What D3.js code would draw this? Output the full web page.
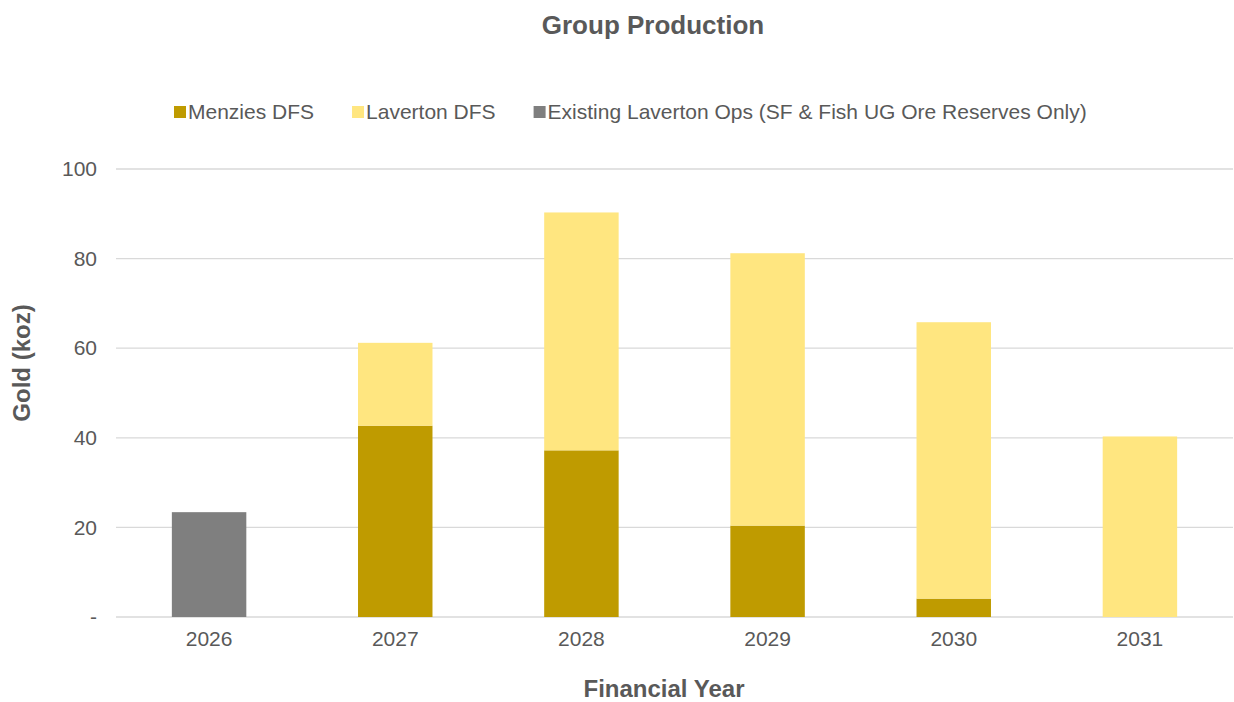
<!DOCTYPE html>
<html><head><meta charset="utf-8">
<script src="https://cdn.jsdelivr.net/npm/d3@7"></script>
<style>body{margin:0;background:#fff;} text{font-family:"Liberation Sans",Arial,sans-serif;}</style>
</head><body>
<svg id="c" width="1234" height="702"></svg>
<script>
const years = ["2026","2027","2028","2029","2030","2031"];
const menzies = [0, 42.7, 37.2, 20.4, 4.1, 0];
const laverton = [0, 18.5, 53.1, 60.8, 61.7, 40.3];
const existing = [23.4, 0, 0, 0, 0, 0];
const yTicks = [0, 20, 40, 60, 80, 100];
const seriesNames = ["Menzies DFS", "Laverton DFS", "Existing Laverton Ops (SF & Fish UG Ore Reserves Only)"];
const seriesColors = ["#BF9B00", "#FFE680", "#7F7F7F"];

const svg = d3.select("#c");
const W = 1234, H = 702;
const m = {left:116, right:1, top:169, bottom:85};
const x = d3.scaleBand().domain(years).range([m.left, W - m.right]).paddingInner(0.6).paddingOuter(0.3);
const y = d3.scaleLinear().domain([0, 100]).range([617, 169]);

const txt = "#595959";
const ff = "'Liberation Sans',Arial,sans-serif";
// grid
svg.append("g").selectAll("line").data(yTicks).join("line")
  .attr("x1", m.left).attr("x2", W - m.right)
  .attr("y1", d => y(d)).attr("y2", d => y(d))
  .attr("stroke", "#D9D9D9").attr("stroke-width", 1.3);

// y axis labels
const yAxis = d3.axisLeft(y).tickValues(yTicks).tickSize(0).tickPadding(0)
  .tickFormat(d => d === 0 ? "-" : d);
const yg = svg.append("g").attr("transform", `translate(${m.left - 19},0)`).call(yAxis);
yg.select(".domain").remove();
yg.selectAll("text").attr("fill", txt).style("font-size", "21px").style("font-family", ff);

// x axis labels
const xAxis = d3.axisBottom(x).tickSize(0).tickPadding(0);
const xg = svg.append("g").attr("transform", `translate(0,${617 + 14})`).call(xAxis);
xg.select(".domain").remove();
xg.selectAll("text").attr("fill", txt).style("font-size", "21px").style("font-family", ff);

// stacked bars
const data = years.map((yr, i) => ({year: yr, m: menzies[i], l: laverton[i], e: existing[i]}));
const stack = d3.stack().keys(["m", "l", "e"])(data);
svg.append("g").selectAll("g").data(stack).join("g")
  .attr("fill", (d, i) => seriesColors[i])
  .selectAll("rect").data(d => d.filter(p => p[1] - p[0] > 0)).join("rect")
  .attr("x", d => x(d.data.year)).attr("width", x.bandwidth())
  .attr("y", d => y(d[1])).attr("height", d => y(d[0]) - y(d[1]));

// title
svg.append("text").attr("x", 653).attr("y", 34).attr("text-anchor", "middle")
  .attr("fill", txt).style("font-size", "26px").style("font-weight", "bold").text("Group Production");

// axis titles
svg.append("text").attr("x", 664).attr("y", 697).attr("text-anchor", "middle")
  .attr("fill", txt).style("font-size", "24px").style("font-weight", "bold").text("Financial Year");
svg.append("text").attr("transform", "translate(30,363) rotate(-90)").attr("text-anchor", "middle")
  .attr("fill", txt).style("font-size", "24px").style("font-weight", "bold").text("Gold (koz)");

// legend
const lg = svg.append("g");
let lx = 174;
seriesNames.forEach((n, i) => {
  const g = lg.append("g");
  g.append("rect").attr("x", lx).attr("y", 106).attr("width", 12).attr("height", 12).attr("fill", seriesColors[i]);
  const t = g.append("text").attr("x", lx + 14).attr("y", 119).attr("fill", txt).style("font-size", "21px").text(n);
  lx += 14 + t.node().getComputedTextLength() + 38;
});
</script>
</body></html>
